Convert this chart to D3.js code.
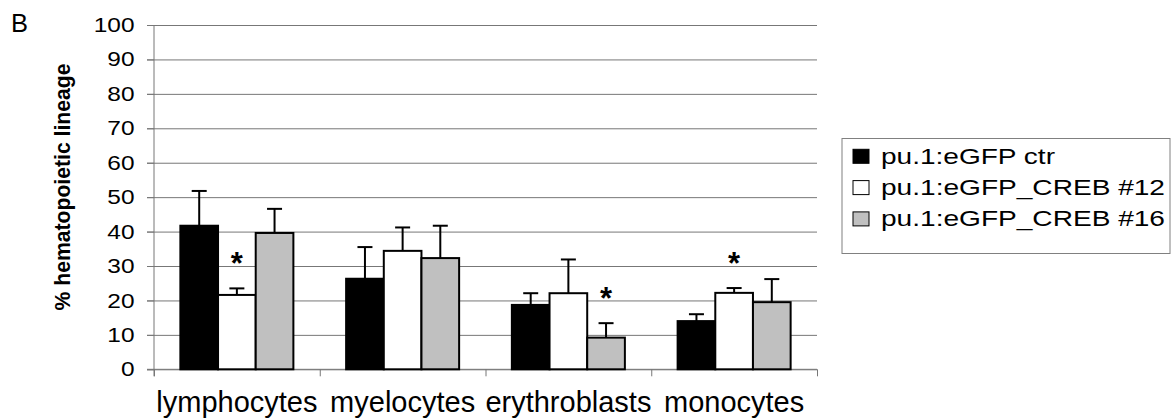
<!DOCTYPE html>
<html>
<head>
<meta charset="utf-8">
<script src="https://cdn.jsdelivr.net/npm/d3@7"></script>
<style>
  body { margin: 0; background: #fff; }
  svg text { font-family: "Liberation Sans", Arial, sans-serif; fill: #000; }
</style>
</head>
<body>
<svg id="chart" width="1176" height="419"></svg>
<script>

// categories and series
const categories = ['lymphocytes', 'myelocytes', 'erythroblasts', 'monocytes'];
const seriesNames = ['pu.1:eGFP ctr', 'pu.1:eGFP_CREB #12', 'pu.1:eGFP_CREB #16'];

// means and upper error (SD)
const ctrMean    = [41.7, 26.3, 18.7, 14.0];
const ctrErr     = [10.1,  9.2,  3.4,  2.0];
const creb12Mean = [21.6, 34.4, 22.1, 22.2];
const creb12Err  = [ 1.9,  6.8,  9.8,  1.4];
const creb16Mean = [39.6, 32.3,  9.2, 19.5];
const creb16Err  = [ 7.0,  9.4,  4.2,  6.7];

// significance stars
const ctrSig    = [false, false, false, false];
const creb12Sig = [true, false, false, true];
const creb16Sig = [false, false, true, false];

const yTicks = [0, 10, 20, 30, 40, 50, 60, 70, 80, 90, 100];

const seriesFill = ['#000000', '#ffffff', '#c0c0c0'];

let means = [ctrMean, creb12Mean, creb16Mean];
let errs = [ctrErr, creb12Err, creb16Err];
let sigs = [ctrSig, creb12Sig, creb16Sig];

let rows = [];
categories.forEach(function (cat, i) {
    seriesNames.forEach(function (s, j) {
        rows.push({cat: cat, series: s, idx: j, mean: means[j][i], err: errs[j][i], sig: sigs[j][i]});
    });
});

const svg = d3.select('#chart');
const font = '"Liberation Sans", Arial, sans-serif';

let plotLeft = 154, plotRight = 817, plotTop = 25, plotBottom = 369.3;

let y = d3.scaleLinear().domain([0, 100]).range([plotBottom, plotTop]);
let x0 = d3.scaleBand().domain(categories).range([plotLeft, plotRight]).padding(0);
let x1 = d3.scaleBand().domain(seriesNames).range([0, x0.bandwidth()]).paddingInner(0).paddingOuter(0.7);

// gridlines
svg.append('g')
   .attr('transform', 'translate(' + plotRight + ',0)')
   .call(d3.axisLeft(y).tickValues(yTicks).tickSize(plotRight - plotLeft + 7).tickFormat(''))
   .call(g => g.select('.domain').remove())
   .call(g => g.selectAll('line').attr('stroke', '#777').attr('stroke-width', 1));

// y axis
let yAxis = svg.append('g')
   .attr('transform', 'translate(' + plotLeft + ',0)')
   .call(d3.axisLeft(y).tickValues(yTicks).tickSize(7).tickPadding(12.5));
yAxis.select('.domain').attr('stroke', '#777').attr('d', 'M0,' + plotTop + 'V' + (plotBottom + 7));
yAxis.selectAll('line').attr('stroke', '#777');
yAxis.selectAll('text')
     .attr('font-family', font)
     .attr('font-size', 20.5)
     .attr('fill', '#000')
     .attr('textLength', d => String(d).length * 13.6)
     .attr('lengthAdjust', 'spacingAndGlyphs');

// x axis: boundary ticks
let xEdge = d3.scaleLinear().domain([0, categories.length]).range([plotLeft, plotRight]);
svg.append('g')
   .attr('transform', 'translate(0,' + plotBottom + ')')
   .call(d3.axisBottom(xEdge).ticks(categories.length).tickSize(7).tickFormat(''))
   .call(g => g.select('.domain').attr('stroke', '#777').attr('d', 'M' + (plotLeft - 7) + ',0H' + plotRight))
   .call(g => g.selectAll('line').attr('stroke', '#777'));

// x labels
svg.append('g')
   .attr('transform', 'translate(0,' + plotBottom + ')')
   .call(d3.axisBottom(x0).tickSize(0).tickPadding(21.8))
   .call(g => g.select('.domain').remove())
   .selectAll('text')
   .attr('font-family', font)
   .attr('font-size', 29)
   .attr('fill', '#000');

// bars
let groups = svg.append('g').selectAll('g.bar')
   .data(rows)
   .enter()
   .append('g')
   .classed('bar', true)
   .attr('transform', d => 'translate(' + (x0(d.cat) + x1(d.series)) + ',0)');

groups.append('rect')
      .attr('x', 0)
      .attr('y', d => y(d.mean))
      .attr('width', x1.bandwidth())
      .attr('height', d => y(0) - y(d.mean))
      .attr('fill', d => seriesFill[d.idx])
      .attr('stroke', '#000')
      .attr('stroke-width', 2);

// error bars (upper only)
let bw = x1.bandwidth();
groups.append('line')
      .attr('x1', bw / 2).attr('x2', bw / 2)
      .attr('y1', d => y(d.mean)).attr('y2', d => y(d.mean + d.err))
      .attr('stroke', '#000').attr('stroke-width', 2);
groups.append('line')
      .attr('x1', bw / 2 - 7.5).attr('x2', bw / 2 + 7.5)
      .attr('y1', d => y(d.mean + d.err)).attr('y2', d => y(d.mean + d.err))
      .attr('stroke', '#000').attr('stroke-width', 2);

// stars
groups.filter(d => d.sig)
      .append('text')
      .attr('x', bw / 2)
      .attr('y', d => y(d.mean + d.err) - 14)
      .attr('text-anchor', 'middle')
      .attr('font-family', font)
      .attr('font-weight', 'bold')
      .attr('font-size', 31)
      .text('*');

// y title
svg.append('text')
   .attr('transform', 'translate(70,187) rotate(-90)')
   .attr('text-anchor', 'middle')
   .attr('font-family', font)
   .attr('font-weight', 'bold')
   .attr('font-size', 21.5)
   .attr('textLength', 247)
   .attr('lengthAdjust', 'spacingAndGlyphs')
   .text('% hematopoietic lineage');

// panel letter
svg.append('text')
   .attr('x', 11).attr('y', 31.7)
   .attr('font-family', font)
   .attr('font-size', 25.5)
   .text('B');

// legend
let legend = svg.append('g').attr('transform', 'translate(842,138.5)');
legend.append('rect')
      .attr('width', 328).attr('height', 115)
      .attr('fill', '#fff').attr('stroke', '#808080').attr('stroke-width', 1);

let legendWidths = [174, 284, 284];
let item = legend.selectAll('g.item')
      .data(seriesNames)
      .enter()
      .append('g')
      .classed('item', true)
      .attr('transform', (d, i) => 'translate(0,' + (17.8 + i * 31.3) + ')');
item.append('rect')
    .attr('x', 11).attr('y', -7)
    .attr('width', 16).attr('height', 14)
    .attr('fill', (d, i) => seriesFill[i])
    .attr('stroke', '#000').attr('stroke-width', 1);
item.append('text')
    .attr('x', 39).attr('y', 7.5)
    .attr('font-family', font)
    .attr('font-size', 22)
    .attr('textLength', (d, i) => legendWidths[i])
    .attr('lengthAdjust', 'spacingAndGlyphs')
    .text(d => d);

</script>
</body>
</html>
